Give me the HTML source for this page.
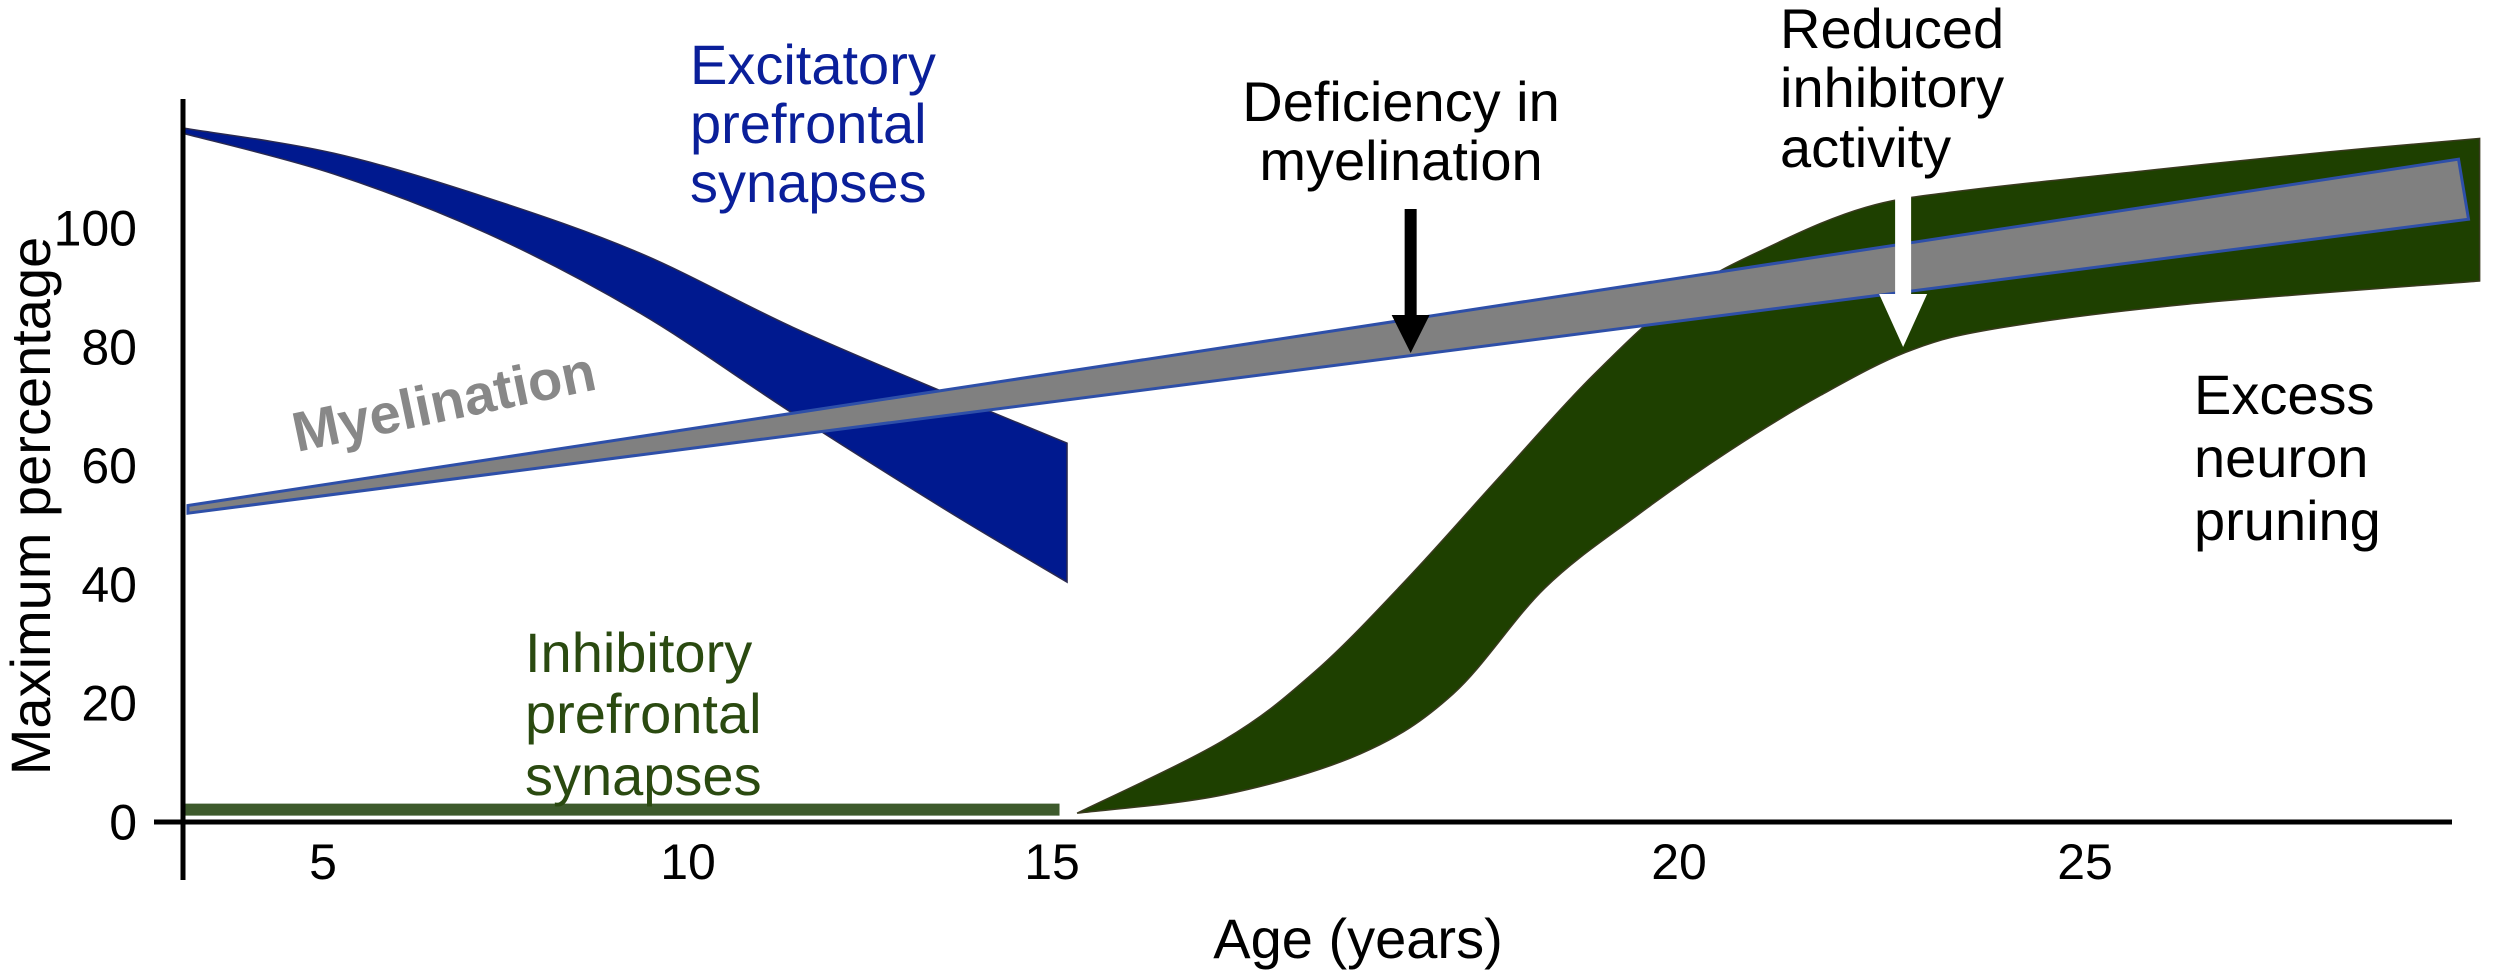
<!DOCTYPE html>
<html><head><meta charset="utf-8"><style>
html,body{margin:0;padding:0;background:#fff;}
svg{display:block;font-family:"Liberation Sans",Arial,sans-serif;}
</style></head><body>
<svg id="chart" width="2496" height="972" viewBox="0 0 2496 972" xmlns="http://www.w3.org/2000/svg">
<g id="marks"></g>
<g id="axes"></g>
<g font-size="56">
 <text fill="#0a1f9a" x="690" y="84">Excitatory</text>
 <text fill="#0a1f9a" x="690" y="143">prefrontal</text>
 <text fill="#0a1f9a" x="690" y="202">synapses</text>
 <text fill="#2a4a10" x="525" y="672">Inhibitory</text>
 <text fill="#2a4a10" x="525" y="733">prefrontal</text>
 <text fill="#2a4a10" x="525" y="795">synapses</text>
 <text fill="#000" x="1401" y="121" text-anchor="middle">Deficiency in</text>
 <text fill="#000" x="1401" y="180" text-anchor="middle">myelination</text>
 <text fill="#000" x="1780" y="48">Reduced</text>
 <text fill="#000" x="1780" y="107">inhibitory</text>
 <text fill="#000" x="1780" y="167">activity</text>
 <text fill="#000" x="2194" y="414">Excess</text>
 <text fill="#000" x="2194" y="477">neuron</text>
 <text fill="#000" x="2194" y="540">pruning</text>
 <text fill="#888" font-weight="bold" font-size="56" transform="translate(297,452) rotate(-11.8)">Myelination</text>
</g>
</svg>
<script>
// ---- data ----
const excitAges   = [3.1, 5.15, 7.25, 9.34, 11.44, 13.55, 15.12];
const excitTop    = [116.7, 112.5, 105, 95.7, 83.2, 72.1, 63.7];
const excitBottom = [115.8, 109, 99, 85.6, 68.7, 52.4, 40.3];
const inhibFlatAges = [3.1, 15.06];
const inhibFlatValue = [2];
const inhibTopAges    = [15.2, 16.37, 17.10, 17.83, 18.56, 19.30, 20.05, 21.18, 22.30, 23.44, 25.70, 27.97, 29.86];
const inhibTop        = [1.4, 13.7, 25.3, 40.8, 57.8, 74.8, 88.8, 97.2, 103.4, 106.1, 109.5, 112.7, 115];
const inhibBottomAges = [15.2, 16.37, 17.46, 18.20, 18.93, 19.67, 20.62, 21.75, 22.87, 24.00, 26.27, 29.86];
const inhibBottom     = [1.4, 4.5, 11.4, 21.5, 39.3, 51.6, 62.4, 71.8, 79.4, 83.2, 87.1, 91];
const myelAges    = [3.15, 29.6];
const myelTop     = [53.2, 111.5];
const myelBottom  = [51.9, 101.4];
const xTicks = [5, 10, 15, 20, 25];
const yTicks = [0, 20, 40, 60, 80, 100];
const arrowAges = [17.86, 22.76];

// ---- scales (the original figure's age axis is non-uniform) ----
const xBreakAges = [5, 10, 15, 20, 25];
const xBreakPx   = [323, 688, 1052, 1679, 2085];
function xs(a){
  const n = xBreakAges.length;
  if (a <= xBreakAges[0]) return xBreakPx[0] + (a - xBreakAges[0]) * 73;
  if (a >= xBreakAges[n-1]) return xBreakPx[n-1] + (a - xBreakAges[n-1]) * 81.2;
  for (let i = 0; i < n - 1; i++){
    if (a <= xBreakAges[i+1]){
      const t = (a - xBreakAges[i]) / (xBreakAges[i+1] - xBreakAges[i]);
      return xBreakPx[i] + t * (xBreakPx[i+1] - xBreakPx[i]);
    }
  }
}
function ys(v){ return 821.5 - v * 5.94; }

const NS = "http://www.w3.org/2000/svg";
const marks = document.getElementById('marks');
const axes = document.getElementById('axes');
function mk(tag, attrs, parent){
  const e = document.createElementNS(NS, tag);
  for (const k in attrs) e.setAttribute(k, attrs[k]);
  parent.appendChild(e); return e;
}
function smooth(pts){
  let d = '';
  for (let i = 0; i < pts.length - 1; i++){
    const p0 = pts[Math.max(0,i-1)], p1 = pts[i], p2 = pts[i+1], p3 = pts[Math.min(pts.length-1,i+2)];
    const c1 = [p1[0] + (p2[0]-p0[0])/6, p1[1] + (p2[1]-p0[1])/6];
    const c2 = [p2[0] - (p3[0]-p1[0])/6, p2[1] - (p3[1]-p1[1])/6];
    d += ` C${c1[0]},${c1[1]} ${c2[0]},${c2[1]} ${p2[0]},${p2[1]}`;
  }
  return d;
}
function band2(tAges, top, bAges, bot){
  const t = tAges.map((a,i)=>[xs(a), ys(top[i])]);
  const b = bAges.map((a,i)=>[xs(a), ys(bot[i])]).reverse();
  return `M${t[0][0]},${t[0][1]}` + smooth(t) + ` L${b[0][0]},${b[0][1]}` + smooth(b) + ' Z';
}

const ex = mk('path', {d: band2(excitAges, excitTop, excitAges, excitBottom), fill: '#00198f', stroke: '#2a2a50', 'stroke-width': 1.5}, marks);



const fl = mk('rect', {x: xs(inhibFlatAges[0]), y: ys(inhibFlatValue[0]) - 6, width: xs(inhibFlatAges[1]) - xs(inhibFlatAges[0]), height: 12, fill: '#3d5a2c'}, marks);



const ib = mk('path', {d: band2(inhibTopAges, inhibTop, inhibBottomAges, inhibBottom), fill: '#1e4000', stroke: '#3a3a20', 'stroke-width': 1.5}, marks);



const my = mk('polygon', {points: `${xs(myelAges[0])},${ys(myelTop[0])} ${xs(myelAges[1])},${ys(myelTop[1])} ${xs(myelAges[1])+10},${ys(myelBottom[1])} ${xs(myelAges[0])},${ys(myelBottom[0])}`, fill: '#808080', stroke: '#2e4fa8', 'stroke-width': 3}, marks);



const ax1 = xs(arrowAges[0]);
const as1 = mk('rect', {x: ax1 - 6, y: 209, width: 12, height: 110, fill: '#000'}, marks);


const ah1 = mk('polygon', {points: `${ax1-19},315 ${ax1+19},315 ${ax1},353`, fill: '#000'}, marks);


const ax2 = xs(arrowAges[1]);
const as2 = mk('rect', {x: ax2 - 8, y: 193, width: 16, height: 104, fill: '#fff'}, marks);


const ah2 = mk('polygon', {points: `${ax2-24},294 ${ax2+24},294 ${ax2},347`, fill: '#fff'}, marks);



const ya = mk('line', {x1: 183, y1: 99, x2: 183, y2: 880, stroke: '#000', 'stroke-width': 5}, axes);


const xa = mk('line', {x1: 154, y1: 822, x2: 2452, y2: 822, stroke: '#000', 'stroke-width': 5}, axes);


yTicks.forEach(v => {
  const t = mk('text', {x: 137, y: ys(v) + 18, 'text-anchor': 'end', 'font-size': 50, fill: '#000'}, axes);
  t.textContent = v;
  
  
});
xTicks.forEach(v => {
  const t = mk('text', {x: xs(v), y: 879, 'text-anchor': 'middle', 'font-size': 50, fill: '#000'}, axes);
  t.textContent = v;
  
  
});
const xt = mk('text', {x: 1358, y: 958, 'text-anchor': 'middle', 'font-size': 56, fill: '#000'}, axes);
xt.textContent = 'Age (years)';


const yt = mk('text', {x: 0, y: 0, 'text-anchor': 'middle', 'font-size': 56, fill: '#000', transform: 'translate(50,506) rotate(-90)'}, axes);
yt.textContent = 'Maximum percentage';


</script>
</body></html>
